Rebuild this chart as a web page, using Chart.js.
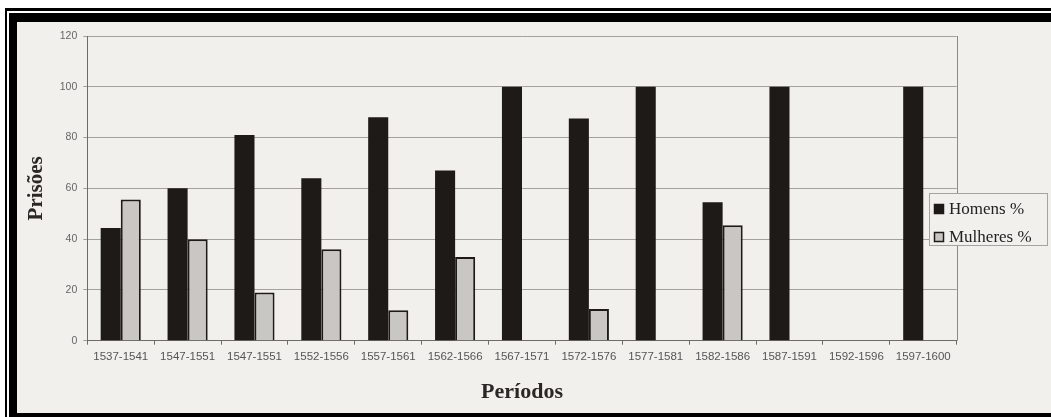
<!DOCTYPE html>
<html>
<head>
<meta charset="utf-8">
<script src="https://cdn.jsdelivr.net/npm/chart.js@4"></script>
<style>
  html, body { margin: 0; padding: 0; width: 1051px; height: 417px; overflow: hidden; background: #ffffff; position: relative; }
  .f1 { position: absolute; left: 5px; top: 8px; width: 1100px; height: 500px; background: #000; }
  .f2 { position: absolute; left: 7px; top: 11px; width: 1100px; height: 500px; background: #fff; }
  .f3 { position: absolute; left: 9px; top: 13px; width: 1100px; height: 500px; background: #000; }
  .content { position: absolute; left: 17px; top: 22px; width: 1034px; height: 391px; background: #f2f0ed; }
</style>
</head>
<body>
<div class="f1"></div>
<div class="f2"></div>
<div class="f3"></div>
<div class="content"><canvas id="c" width="1034" height="391"></canvas></div>
<script>
const categories = ["1537-1541","1547-1551","1547-1551","1552-1556","1557-1561","1562-1566","1567-1571","1572-1576","1577-1581","1582-1586","1587-1591","1592-1596","1597-1600"];
const homens   = [44.4, 60, 81, 64, 88, 67, 100, 87.5, 100, 54.5, 100, null, 100];
const mulheres = [55.6, 40, 19, 36, 12, 33, null, 12.5, null, 45.5, null, null, null];
const yTicks = [0, 20, 40, 60, 80, 100, 120];
const seriesNames = ["Homens %", "Mulheres %"];
const yTitle = "Prisões";
const xTitle = "Períodos";

const legendPlugin = {
  id: 'floatLegend',
  afterDraw(chart) {
    const ctx = chart.ctx;
    ctx.save();
    const bx = 912, by = 171, bw = 118, bh = 52;
    ctx.fillStyle = '#f2f0ed';
    ctx.fillRect(bx, by, bw, bh);
    ctx.strokeStyle = '#a5a3a0';
    ctx.lineWidth = 1;
    ctx.strokeRect(bx + 0.5, by + 0.5, bw, bh);
    const rows = [187, 215];
    chart.data.datasets.forEach((ds, i) => {
      const y = rows[i];
      ctx.fillStyle = ds.backgroundColor;
      ctx.fillRect(917, y - 5, 10, 10);
      ctx.strokeStyle = '#1e1a17';
      ctx.lineWidth = 1.5;
      ctx.strokeRect(917.5, y - 4.5, 9, 9);
      ctx.fillStyle = '#222';
      ctx.font = '17px "Liberation Serif"';
      ctx.textBaseline = 'middle';
      ctx.textAlign = 'left';
      ctx.fillText(ds.label, 932, y + 1);
    });
    ctx.restore();
  }
};

const borderPlugin = {
  id: 'plotBorder',
  beforeDatasetsDraw(chart) {
    const {ctx, chartArea: a} = chart;
    ctx.save();
    ctx.strokeStyle = '#8c8a87';
    ctx.lineWidth = 1;
    ctx.beginPath();
    ctx.moveTo(Math.round(a.right) + 0.5, a.top);
    ctx.lineTo(Math.round(a.right) + 0.5, a.bottom);
    ctx.stroke();
    ctx.restore();
  }
};

new Chart(document.getElementById('c'), {
  type: 'bar',
  data: {
    labels: categories,
    datasets: [
      { label: seriesNames[0], data: homens, backgroundColor: '#1e1a17', borderColor: '#1e1a17', borderWidth: 0,
        categoryPercentage: 0.6, barPercentage: 1.0 },
      { label: seriesNames[1], data: mulheres, backgroundColor: '#c9c7c4', borderColor: '#1e1a17', borderWidth: 2,
        categoryPercentage: 0.6, barPercentage: 1.0 }
    ]
  },
  options: {
    responsive: false,
    animation: false,
    events: [],
    layout: { padding: { left: 0, top: 14, right: 94.3, bottom: 0 } },
    plugins: { legend: { display: false }, tooltip: { enabled: false } },
    scales: {
      x: {
        grid: { display: true, drawOnChartArea: false, drawTicks: true, tickLength: 4, color: '#6e6c69', offset: true },
        border: { display: true, color: '#6e6c69', width: 1 },
        ticks: { color: '#555', font: { family: 'Liberation Sans', size: 11.5 }, padding: 5, maxRotation: 0, autoSkip: false },
        title: { display: true, text: xTitle, color: '#2a2725', font: { family: 'Liberation Serif', size: 22, weight: 'bold' }, padding: { top: 0, bottom: 7 } },
        afterFit(scale) { scale.height = 72.3; }
      },
      y: {
        min: 0, max: 120,
        afterBuildTicks(scale) { scale.ticks = yTicks.map(v => ({ value: v })); },
        grid: { color: '#a3a19e', lineWidth: 1, tickLength: 4, drawTicks: true },
        border: { display: true, color: '#6e6c69', width: 1 },
        ticks: { color: '#666', font: { family: 'Liberation Sans', size: 10.5 }, padding: 6 },
        title: { display: true, text: yTitle, color: '#2a2725', font: { family: 'Liberation Serif', size: 21, weight: 'bold' }, padding: { top: 6.5, bottom: 0 } },
        afterFit(scale) { scale.width = 70.3; }
      }
    }
  },
  plugins: [borderPlugin, legendPlugin]
});
</script>
</body>
</html>
